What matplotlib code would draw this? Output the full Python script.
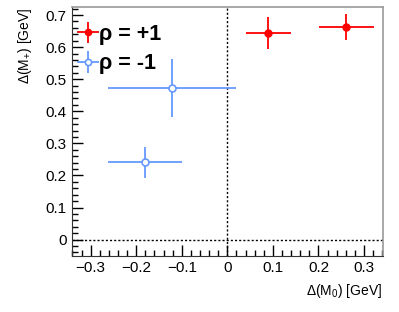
import matplotlib
matplotlib.use('Agg')
import matplotlib.pyplot as plt
from matplotlib.ticker import MultipleLocator

plt.rcParams['font.family'] = ['Liberation Sans', 'DejaVu Sans']
plt.rcParams['mathtext.fontset'] = 'custom'
plt.rcParams['mathtext.rm'] = 'Liberation Sans'

# rho = +1
pos_x = [0.090, 0.261]
pos_y = [0.643, 0.663]
pos_xerr = [0.050, 0.060]
pos_yerr = [0.050, 0.040]

# rho = -1
neg_x = [-0.121, -0.181]
neg_y = [0.472, 0.241]
neg_xerr = [0.141, 0.081]
neg_yerr = [0.090, 0.048]

red = '#ff0000'
blue = '#6699ff'

fig = plt.figure(figsize=(3.99, 3.12), dpi=100)
ax = fig.add_axes([72/399, 1 - 255.7/312, (382.7 - 72)/399, (255.7 - 7.3)/312])

ax.axvline(0, color='black', ls=(0, (1.5, 1.5)), lw=1.0, zorder=1)
ax.axhline(0, color='black', ls=(0, (1.5, 1.5)), lw=1.0, zorder=1)

ax.errorbar(pos_x, pos_y, xerr=pos_xerr, yerr=pos_yerr, fmt='o', color=red,
            ms=5, mfc=red, mec=red, elinewidth=1.3, capsize=0, label='\u03c1 = +1', zorder=3)
ax.errorbar(neg_x, neg_y, xerr=neg_xerr, yerr=neg_yerr, fmt='o', color=blue,
            ms=5, mfc='white', mec=blue, mew=1.2, elinewidth=1.3, capsize=0, label='\u03c1 = -1', zorder=3)

ax.set_xlim(-0.341, 0.341)
ax.set_ylim(-0.05, 0.724)
ax.xaxis.set_major_locator(MultipleLocator(0.1))
ax.xaxis.set_minor_locator(MultipleLocator(0.02))
ax.yaxis.set_major_locator(MultipleLocator(0.1))
ax.yaxis.set_minor_locator(MultipleLocator(0.02))
ax.set_xticks([-0.3, -0.2, -0.1, 0, 0.1, 0.2, 0.3])
ax.set_xticklabels(['\u22120.3', '\u22120.2', '\u22120.1', '0', '0.1', '0.2', '0.3'])
ax.set_yticks([0, 0.1, 0.2, 0.3, 0.4, 0.5, 0.6, 0.7])
ax.set_yticklabels(['0', '0.1', '0.2', '0.3', '0.4', '0.5', '0.6', '0.7'])
ax.tick_params(which='both', direction='in', top=False, right=False, labelsize=11, pad=4)
ax.tick_params(which='major', length=8, width=1)
ax.tick_params(which='minor', length=4, width=1)
for s in ['left', 'bottom']:
    ax.spines[s].set_color('#333333')
for s in ['top', 'right']:
    ax.spines[s].set_color('#999999')
    ax.spines[s].set_linewidth(1.2)

ax.set_xlabel(r'$\Delta$(M$_0$) [GeV]', fontsize=10, loc='right', labelpad=5)
ax.set_ylabel(r'$\Delta$(M$_{+}$) [GeV]', fontsize=10, loc='top', labelpad=8)

leg = ax.legend(loc='upper left', bbox_to_anchor=(0.0, 0.968), frameon=False,
                prop={'size': 15.5, 'weight': 'bold'},
                handlelength=0.7, handletextpad=0.15, borderaxespad=0.2, labelspacing=0.4,
                borderpad=0.2, markerscale=0.9)

fig.savefig('out.png', dpi=100)
